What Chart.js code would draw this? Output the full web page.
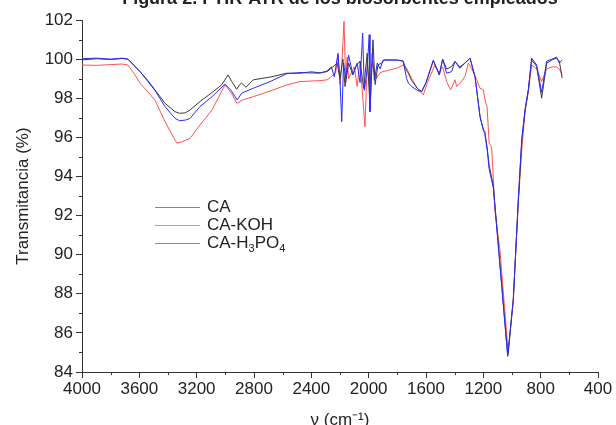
<!DOCTYPE html>
<html>
<head>
<meta charset="utf-8">
<script src="https://cdn.jsdelivr.net/npm/chart.js@4.4.1/dist/chart.umd.min.js"></script>
<style>
  html, body { margin: 0; padding: 0; background: #fff; }
  #wrap { position: relative; width: 616px; height: 425px; overflow: hidden; }
  #titulo { position: absolute; left: 340px; top: -12px; transform: translateX(-50%); font: bold 18px "Liberation Sans", Arial, sans-serif; line-height: 20px; color: #222; white-space: nowrap; }
  #leyenda { position: absolute; left: 207px; top: 198px; font: 17px "Liberation Sans", Arial, sans-serif; color: #222; }
  .item { height: 18px; line-height: 18px; white-space: nowrap; }
  sub { font-size: 11px; vertical-align: -4px; line-height: 0; }
</style>
</head>
<body>
<div id="wrap">
  <canvas id="grafico" width="616" height="425"></canvas>
  <div id="titulo">Figura 2. FTIR-ATR de los biosorbentes empleados</div>
  <div id="leyenda"></div>
</div>
<script>
const caNu = [4000, 3900, 3800, 3720, 3680, 3640, 3595, 3540, 3491, 3421, 3351, 3320, 3280, 3246, 3177, 3093, 3026, 2981, 2955, 2921, 2900, 2886, 2856, 2805, 2688, 2572, 2479, 2400, 2340, 2290,
  2250, 2220, 2200, 2180, 2165, 2140, 2110, 2085, 2060, 2035, 2010, 1990, 1970, 1955, 1935, 1910, 1890,
  1800, 1760, 1735, 1723, 1700, 1660, 1630, 1600, 1549, 1507, 1484, 1456, 1421, 1398, 1363, 1328, 1293, 1258, 1223, 1200, 1190, 1172, 1160, 1130,
  1030, 991, 956, 932, 909, 886, 863, 828, 793, 758, 720, 689, 670, 650]
const caT = [99.96, 100.02, 99.98, 100.03, 100.0, 99.7, 99.36, 98.9, 98.43, 97.74, 97.31, 97.23, 97.25, 97.4, 97.83, 98.29, 98.68, 99.19, 98.85, 98.46, 98.7, 98.77, 98.56, 98.94, 99.08, 99.28, 99.28, 99.35, 99.3, 99.36,
  99.6, 99.8, 99.0, 100.0, 98.6, 99.8, 99.2, 99.7, 99.9, 98.5, 100.3, 97.4, 100.99, 98.7, 99.7, 99.8, 99.96,
  99.95, 99.9, 99.4, 99.28, 98.9, 98.5, 98.34, 98.8, 99.93, 99.19, 100.0, 99.49, 99.62, 99.88, 99.6, 99.8, 100.05, 99.1, 97.06, 96.4, 96.3, 95.4, 94.6, 93.5,
  84.84, 87.66, 92.8, 95.8, 97.4, 98.43, 99.96, 99.62, 98.0, 99.8, 99.96, 100.05, 99.9, 99.03]

const kohNu = [4000, 3900, 3800, 3720, 3680, 3640, 3595, 3491, 3421, 3351, 3337, 3300, 3246, 3177, 3093, 3002, 2960, 2919, 2880, 2805, 2688, 2572, 2479, 2340, 2290,
  2260, 2230, 2214, 2200, 2188, 2172, 2160, 2150, 2140, 2100, 2080, 2060, 2026, 2010, 1995, 1975, 1950, 1920, 1900,
  1800, 1758, 1735, 1700, 1660, 1619, 1590, 1537, 1510, 1484, 1456, 1428, 1398, 1386, 1363, 1328, 1305, 1280, 1246, 1223, 1200, 1188, 1174, 1159, 1142, 1119, 1084, 1037, 1026,
  991, 956, 932, 909, 886, 863, 828, 793, 758, 720, 689, 670, 650]
const kohT = [99.7, 99.68, 99.72, 99.75, 99.7, 99.3, 98.77, 97.91, 96.8, 95.86, 95.7, 95.78, 95.95, 96.63, 97.4, 98.68, 98.3, 97.74, 97.91, 98.08, 98.37, 98.68, 98.85, 98.9, 98.94,
  99.1, 99.3, 100.2, 98.7, 99.6, 101.93, 98.8, 100.1, 99.0, 99.6, 98.6, 99.9, 96.54, 99.8, 98.6, 99.8, 99.0, 99.3, 99.36,
  99.55, 99.7, 99.53, 99.0, 98.5, 98.17, 98.8, 99.7, 99.3, 99.6, 98.85, 98.43, 98.94, 98.6, 98.77, 99.11, 99.8, 99.5, 98.94, 98.51, 98.43, 97.9, 97.57, 95.69, 95.5, 92.27, 90.2, 85.96, 84.92,
  87.8, 92.6, 95.35, 97.3, 98.3, 99.7, 99.5, 98.85, 99.5, 99.6, 99.6, 99.5, 99.2]

const h3po4Nu = [4000, 3900, 3800, 3720, 3680, 3640, 3595, 3540, 3491, 3421, 3351, 3320, 3280, 3246, 3177, 3093, 3002, 2960, 2917, 2886, 2805, 2688, 2572, 2479, 2340, 2290,
  2260, 2240, 2214, 2200, 2188, 2175, 2160, 2140, 2110, 2080, 2060, 2042, 2030, 2010, 1996, 1991, 1975, 1960, 1940, 1920, 1900,
  1800, 1760, 1735, 1723, 1700, 1660, 1630, 1600, 1549, 1507, 1484, 1456, 1421, 1398, 1363, 1328, 1293, 1258, 1223, 1200, 1190, 1172, 1160, 1130,
  1030, 991, 956, 932, 909, 886, 863, 828, 793, 758, 720, 689, 670, 650]
const h3po4T = [100.02, 100.05, 100.0, 100.05, 100.0, 99.7, 99.36, 98.85, 98.4, 97.57, 96.97, 96.85, 96.88, 96.97, 97.57, 98.08, 98.72, 98.4, 97.91, 98.26, 98.51, 98.85, 99.25, 99.31, 99.28, 99.4,
  99.6, 99.1, 100.3, 98.9, 96.8, 99.8, 99.0, 100.2, 99.2, 99.8, 98.8, 101.33, 98.4, 99.5, 101.25, 97.3, 100.3, 98.9, 99.8, 99.5, 99.95,
  99.95, 99.9, 99.0, 98.77, 98.6, 98.4, 98.34, 98.8, 99.93, 99.19, 100.0, 99.28, 99.36, 99.88, 99.53, 99.8, 100.05, 99.1, 97.06, 96.37, 96.2, 95.3, 94.4, 93.4,
  84.8, 87.66, 92.8, 95.9, 97.4, 98.43, 100.05, 99.7, 98.3, 99.9, 100.0, 100.1, 99.8, 99.96]

const xTicks = [4000, 3600, 3200, 2800, 2400, 2000, 1600, 1200, 800, 400]
const xMinor = [3800, 3400, 3000, 2600, 2200, 1800, 1400, 1000, 600]
const yTicks = [84, 86, 88, 90, 92, 94, 96, 98, 100, 102]
const yMinor = [85, 87, 89, 91, 93, 95, 97, 99, 101]

const nombres = ['CA', 'CA-KOH', 'CA-H<sub>3</sub>PO<sub>4</sub>']
const coloresLinea = ['#3a3a3a', '#ff5050', '#2a2aff']
const coloresLeyenda = ['#888888', '#ff8080', '#8080ff']

const fuente = '"Liberation Sans", Arial, sans-serif'
const colorEje = '#333'

// Texto de la leyenda en HTML (subíndices); las muestras se dibujan en el canvas
document.getElementById('leyenda').innerHTML = nombres.map(n =>
    '<div class="item">' + n + '</div>'
).join('')

const pares = (xs, ys) => xs.map((x, i) => ({ x, y: ys[i] }))

// ticks menores hacia afuera + muestras de la leyenda
const extras = {
    id: 'extras',
    afterDraw(chart) {
        const { ctx, scales: { x, y } } = chart
        ctx.save()
        ctx.strokeStyle = colorEje
        ctx.lineWidth = 1
        ctx.beginPath()
        xMinor.forEach(v => {
            const px = Math.round(x.getPixelForValue(v)) + 0.5
            ctx.moveTo(px, y.bottom)
            ctx.lineTo(px, y.bottom + 3)
        })
        yMinor.forEach(v => {
            const py = Math.round(y.getPixelForValue(v)) + 0.5
            ctx.moveTo(x.left, py)
            ctx.lineTo(x.left - 3, py)
        })
        ctx.stroke()

        coloresLeyenda.forEach((c, i) => {
            const py = 207.5 + i * 18
            ctx.strokeStyle = c
            ctx.beginPath()
            ctx.moveTo(155, py)
            ctx.lineTo(200, py)
            ctx.stroke()
        })
        ctx.restore()
    }
}

const serie = (data, color) => ({
    data,
    borderColor: color,
    borderWidth: 1,
    pointRadius: 0,
    tension: 0,
    fill: false
})

new Chart(document.getElementById('grafico').getContext('2d'), {
    type: 'line',
    data: {
        datasets: [
            serie(pares(h3po4Nu, h3po4T), coloresLinea[2]),
            serie(pares(caNu, caT), coloresLinea[0]),
            serie(pares(kohNu, kohT), coloresLinea[1])
        ]
    },
    options: {
        responsive: false,
        animation: false,
        layout: { padding: { top: 20, right: 18, left: 0, bottom: 0 } },
        plugins: { legend: { display: false }, tooltip: { enabled: false } },
        scales: {
            x: {
                type: 'linear',
                reverse: true,
                min: 400,
                max: 4000,
                afterBuildTicks: s => { s.ticks = xTicks.map(v => ({ value: v })) },
                afterFit: s => { s.height = 53; s.paddingLeft = 0; s.paddingRight = 0 },
                grid: { drawOnChartArea: false, tickLength: 6, color: colorEje },
                border: { color: colorEje, width: 1 },
                ticks: { color: '#222', font: { family: fuente, size: 17 }, padding: 1, maxRotation: 0, autoSkip: false, callback: v => String(v) },
                title: { display: true, text: 'ν (cm⁻¹)', color: '#222', font: { family: fuente, size: 17, lineHeight: 1 }, padding: { top: 0, bottom: -4 } }
            },
            y: {
                min: 84,
                max: 102,
                afterBuildTicks: s => { s.ticks = yTicks.map(v => ({ value: v })) },
                afterFit: s => { s.width = 82; s.paddingTop = 0; s.paddingBottom = 0 },
                grid: { drawOnChartArea: false, tickLength: 6, color: colorEje },
                border: { color: colorEje, width: 1 },
                ticks: { color: '#222', font: { family: fuente, size: 17 }, padding: 3, callback: v => String(v) },
                title: { display: true, text: 'Transmitancia (%)', color: '#222', font: { family: fuente, size: 17 }, padding: { top: 13, bottom: 0 } }
            }
        }
    },
    plugins: [extras]
})
</script>
</body>
</html>
